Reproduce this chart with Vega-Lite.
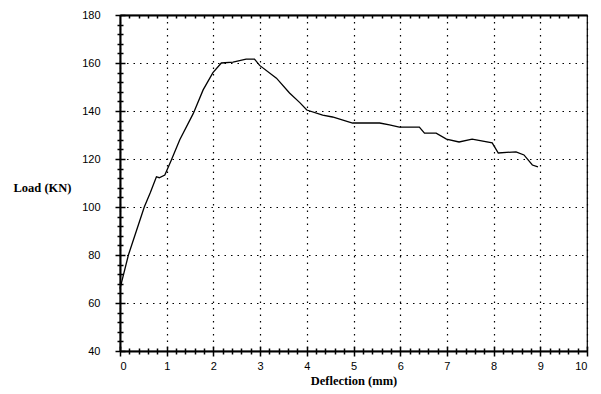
{
  "$schema": "https://vega.github.io/schema/vega-lite/v6.json",
  "autosize": "none",
  "padding": {"left": 120, "top": 15, "right": 14, "bottom": 43},
  "width": 467,
  "height": 336,
  "background": "white",
  "config": {
    "view": {"stroke": "black", "strokeWidth": 1.2},
    "axis": {"labelFont": "Liberation Sans", "labelFontSize": 11, "labelColor": "black", "titleColor": "black", "domainColor": "black", "tickColor": "black", "tickWidth": 1.5}
  },
  "data": {"values": [
    {"d": 0.0, "load": 66},
    {"d": 0.18, "load": 80},
    {"d": 0.35, "load": 90},
    {"d": 0.52, "load": 100},
    {"d": 0.65, "load": 106},
    {"d": 0.78, "load": 112.6},
    {"d": 0.84, "load": 112.2},
    {"d": 0.96, "load": 113.3},
    {"d": 1.1, "load": 119.6},
    {"d": 1.28, "load": 128},
    {"d": 1.57, "load": 139},
    {"d": 1.78, "load": 148.8},
    {"d": 1.99, "load": 156},
    {"d": 2.17, "load": 160},
    {"d": 2.42, "load": 160.4},
    {"d": 2.7, "load": 161.6},
    {"d": 2.88, "load": 161.6},
    {"d": 2.99, "load": 159},
    {"d": 3.35, "load": 153.7},
    {"d": 3.63, "load": 147.5},
    {"d": 3.85, "load": 143.5},
    {"d": 4.0, "load": 140.4},
    {"d": 4.34, "load": 138.3},
    {"d": 4.55, "load": 137.5},
    {"d": 4.98, "load": 135},
    {"d": 5.56, "load": 135},
    {"d": 5.77, "load": 134.2},
    {"d": 5.98, "load": 133.3},
    {"d": 6.41, "load": 133.3},
    {"d": 6.52, "load": 130.8},
    {"d": 6.77, "load": 130.8},
    {"d": 6.99, "load": 128.3},
    {"d": 7.26, "load": 127.1},
    {"d": 7.54, "load": 128.3},
    {"d": 7.97, "load": 126.7},
    {"d": 8.1, "load": 122.5},
    {"d": 8.48, "load": 123},
    {"d": 8.65, "load": 121.7},
    {"d": 8.83, "load": 117.5},
    {"d": 8.95, "load": 116.7}
  ]},
  "resolve": {"axis": {"x": "independent", "y": "independent"}},
  "layer": [
    {
      "mark": {"type": "line", "strokeOpacity": 0},
      "encoding": {
        "x": {"field": "d", "type": "quantitative", "scale": {"domain": [0, 10], "nice": false},
          "axis": {"orient": "bottom", "values": [0.2,0.4,0.6,0.8,1.2,1.4,1.6,1.8,2.2,2.4,2.6,2.8,3.2,3.4,3.6,3.8,4.2,4.4,4.6,4.8,5.2,5.4,5.6,5.8,6.2,6.4,6.6,6.8,7.2,7.4,7.6,7.8,8.2,8.4,8.6,8.8,9.2,9.4,9.6,9.8], "labels": false, "grid": false, "domain": false, "tickSize": -3, "title": null}},
        "y": {"field": "load", "type": "quantitative", "scale": {"domain": [40, 180], "nice": false, "zero": false},
          "axis": {"orient": "left", "values": [44,48,52,56,64,68,72,76,84,88,92,96,104,108,112,116,124,128,132,136,144,148,152,156,164,168,172,176], "labels": false, "grid": false, "domain": false, "tickSize": -3, "title": null}}
      }
    },
    {
      "mark": {"type": "line", "strokeOpacity": 0},
      "encoding": {
        "x": {"field": "d", "type": "quantitative", "scale": {"domain": [0, 10], "nice": false},
          "axis": {"orient": "bottom", "values": [0,1,2,3,4,5,6,7,8,9,10], "labels": false, "grid": false, "domain": false, "tickSize": -5, "title": null}},
        "y": {"field": "load", "type": "quantitative", "scale": {"domain": [40, 180], "nice": false, "zero": false},
          "axis": {"orient": "left", "values": [40,60,80,100,120,140,160,180], "labels": false, "grid": false, "domain": false, "tickSize": -5, "title": null}}
      }
    },
    {
      "mark": {"type": "line", "strokeOpacity": 0},
      "encoding": {
        "x": {"field": "d", "type": "quantitative", "scale": {"domain": [0, 10], "nice": false},
          "axis": {"orient": "top", "values": [0.2,0.4,0.6,0.8,1,1.2,1.4,1.6,1.8,2,2.2,2.4,2.6,2.8,3,3.2,3.4,3.6,3.8,4,4.2,4.4,4.6,4.8,5,5.2,5.4,5.6,5.8,6,6.2,6.4,6.6,6.8,7,7.2,7.4,7.6,7.8,8,8.2,8.4,8.6,8.8,9,9.2,9.4,9.6,9.8], "labels": false, "grid": false, "domain": true, "domainWidth": 2, "tickSize": -3, "title": null}},
        "y": {"field": "load", "type": "quantitative", "scale": {"domain": [40, 180], "nice": false, "zero": false},
          "axis": {"orient": "left", "values": [44,48,52,56,64,68,72,76,84,88,92,96,104,108,112,116,124,128,132,136,144,148,152,156,164,168,172,176], "labels": false, "grid": false, "domain": false, "tickSize": 3, "title": null}}
      }
    },
    {
      "mark": {"type": "line", "strokeOpacity": 0},
      "encoding": {
        "x": {"field": "d", "type": "quantitative", "scale": {"domain": [0, 10], "nice": false},
          "axis": {"orient": "bottom", "values": [0.2,0.4,0.6,0.8,1.2,1.4,1.6,1.8,2.2,2.4,2.6,2.8,3.2,3.4,3.6,3.8,4.2,4.4,4.6,4.8,5.2,5.4,5.6,5.8,6.2,6.4,6.6,6.8,7.2,7.4,7.6,7.8,8.2,8.4,8.6,8.8,9.2,9.4,9.6,9.8], "labels": false, "grid": false, "domain": false, "tickSize": 3, "title": null}},
        "y": {"field": "load", "type": "quantitative", "scale": {"domain": [40, 180], "nice": false, "zero": false}, "axis": null}
      }
    },
    {
      "mark": {"type": "line", "color": "black", "strokeWidth": 1.3},
      "encoding": {
        "x": {"field": "d", "type": "quantitative", "scale": {"domain": [0, 10], "nice": false},
          "axis": {"orient": "bottom", "values": [0,1,2,3,4,5,6,7,8,9,10], "grid": true, "gridColor": "black", "gridDash": [1.5, 5], "gridWidth": 1.2, "gridOpacity": 1, "domainWidth": 2, "tickSize": 5, "labelPadding": 4, "title": "Deflection (mm)", "titleFont": "Liberation Serif", "titleFontSize": 12.5, "titleFontWeight": "bold", "titlePadding": 3}},
        "y": {"field": "load", "type": "quantitative", "scale": {"domain": [40, 180], "nice": false, "zero": false},
          "axis": {"orient": "left", "values": [40,60,80,100,120,140,160,180], "grid": true, "gridColor": "black", "gridDash": [1.5, 5], "gridWidth": 1.2, "gridOpacity": 1, "domainWidth": 2, "tickSize": 5, "labelPadding": 15, "title": "Load (KN)", "titleFont": "Liberation Serif", "titleFontSize": 12.5, "titleFontWeight": "bold", "titleAngle": 0, "titleAlign": "left", "titleBaseline": "middle", "titleX": -107, "titleY": 172}}
      }
    }
  ]
}
